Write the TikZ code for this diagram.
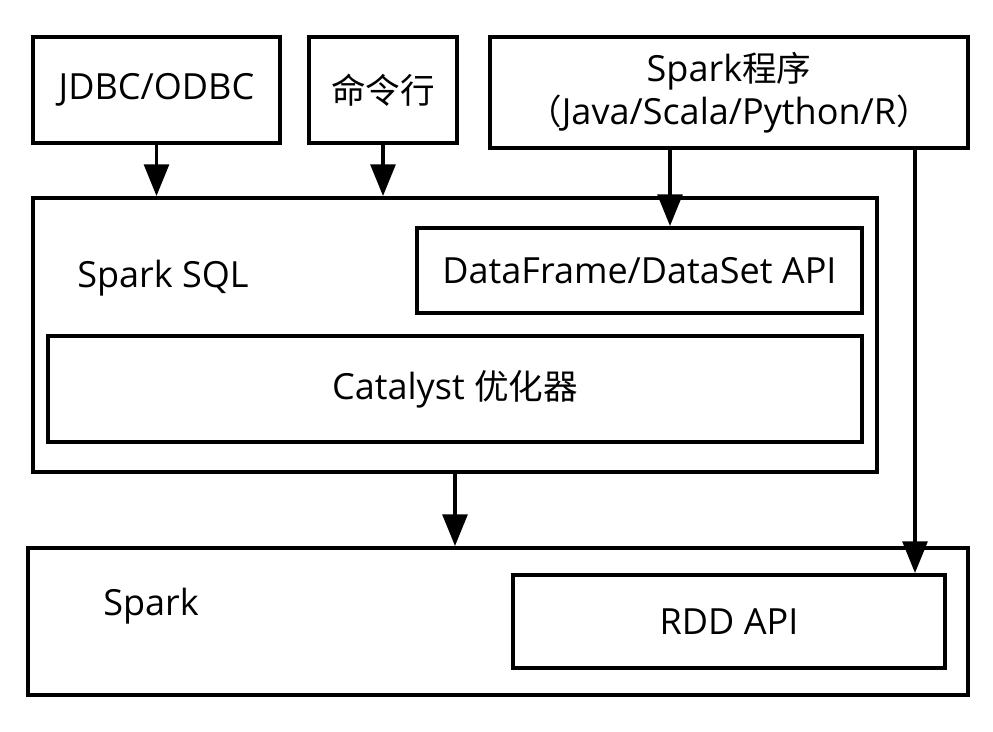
\documentclass[tikz,border=0pt]{standalone}
\usepackage{fontspec}
\setmainfont{Open Sans}
\newfontfamily\cjk[Scale=0.96]{Noto Sans CJK SC}
\usetikzlibrary{arrows.meta}

\begin{document}
\begin{tikzpicture}[x=0.02cm, y=-0.02cm, >={Triangle[length=18pt,width=14pt]},
  txt/.style={font=\fontsize{20.5}{24.5}\selectfont},
  box/.style={draw, line width=2.2pt, inner sep=0pt, txt},
  size/.style 2 args={minimum width=#1*0.02cm, minimum height=#2*0.02cm},
  arr/.style={->, line width=2.2pt}]
  \useasboundingbox (0,0) rectangle (993,731);

  \node[box, size={247}{106}] (jdbc) at (156.5, 90)  {JDBC/ODBC};
  \node[box, size={148}{106}] (cmd)  at (383, 90)    {\cjk 命令行};
  \node[box, size={478}{111}, align=center] (prog) at (729, 92.5)
    {Spark{\cjk 程序}\\{\cjk （}Java/Scala/Python/R{\cjk ）}};

  \node[box, size={844}{274}] (sql) at (455, 335) {};
  \node[txt] (sqltxt) at (163, 278) {Spark SQL};
  \node[box, size={445}{85}]  (df)  at (639.5, 270.5) {DataFrame/DataSet API};
  \node[box, size={814}{106}] (cat) at (455, 389)   {Catalyst {\cjk 优化器}};

  \node[box, size={940}{147}] (spark) at (498, 621.5) {};
  \node[txt] (sparktxt) at (151, 606) {Spark};
  \node[box, size={432}{93}] (rdd) at (729, 621.5) {RDD API};

  \coordinate (p1) at (670, 0);
  \coordinate (p2) at (915, 0);

  \foreach \n in {jdbc, cmd}
    \draw[arr] (\n.south) -- (\n.south |- sql.north);
  \draw[arr] (p1 |- prog.south) -- (p1 |- df.north);
  \draw[arr] (p2 |- prog.south) -- (p2 |- rdd.north);
  \draw[arr] (sql.south) -- (sql.south |- spark.north);
\end{tikzpicture}
\end{document}
